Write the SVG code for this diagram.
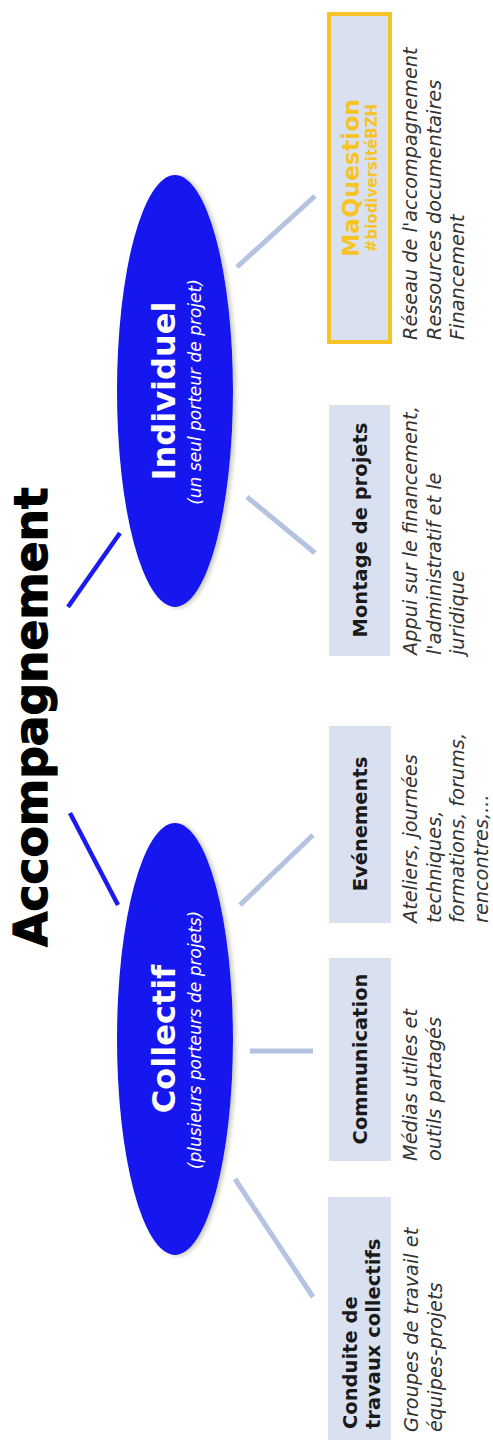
<svg xmlns="http://www.w3.org/2000/svg" width="493" height="1442" viewBox="0 0 493 1442">
<style>
.bg{fill:#ffffff}
.oval{fill:#1515ee;filter:url(#sh)}
.box{fill:#d9e1f0}
.mq{fill:#d9e1f0;stroke:#f6c429;stroke-width:4}
.dark{stroke:#1b1bef;stroke-width:4.5;stroke-linecap:butt}
.light{stroke:#b4c3df;stroke-width:5;stroke-linecap:butt}
.title{font-family:"DejaVu Sans","Liberation Sans",sans-serif;font-weight:bold;font-size:45.5px;fill:#000;stroke:#000;stroke-width:1.2;text-anchor:middle}
.big{font-family:"DejaVu Sans","Liberation Sans",sans-serif;font-weight:bold;font-size:32px;fill:#fff;text-anchor:middle}
.sub{font-family:"DejaVu Sans","Liberation Sans",sans-serif;font-style:italic;font-size:17px;fill:#fff;text-anchor:middle}
.bt{font-family:"DejaVu Sans","Liberation Sans",sans-serif;font-weight:bold;font-size:19.5px;fill:#1a1a1a}
.mid{text-anchor:middle}
.desc{font-family:"DejaVu Sans","Liberation Sans",sans-serif;font-style:italic;font-size:19.3px;fill:#333}
.y1{font-family:"DejaVu Sans","Liberation Sans",sans-serif;font-weight:bold;font-size:23.5px;fill:#f6c429;text-anchor:middle}
.y2{font-family:"DejaVu Sans","Liberation Sans",sans-serif;font-weight:bold;font-size:15px;fill:#f6c429;text-anchor:middle}
</style>
<defs>
<filter id="sh" x="-20%" y="-10%" width="140%" height="120%">
<feDropShadow dx="3" dy="1" stdDeviation="2" flood-color="#9a9a70" flood-opacity="0.5"/>
</filter>
</defs>
<rect class="bg" x="0" y="0" width="493" height="1442"/>
<g id="connectors">
<line class="dark" x1="68" y1="607" x2="120" y2="533"/>
<line class="dark" x1="70" y1="813" x2="118" y2="905"/>
<line class="light" x1="237" y1="267" x2="315" y2="196"/>
<line class="light" x1="247" y1="497" x2="315" y2="553"/>
<line class="light" x1="240" y1="905" x2="313" y2="835"/>
<line class="light" x1="250" y1="1051" x2="313" y2="1051"/>
<line class="light" x1="235" y1="1179" x2="313" y2="1297"/>
</g>
<g id="accompagnement">
<text class="title" transform="translate(47,717) rotate(-90)">Accompagnement</text>
</g>
<g id="individuel">
<ellipse class="oval" cx="175" cy="391" rx="58" ry="216"/>
<text class="big" transform="translate(175,391) rotate(-90)">Individuel</text>
<text class="sub" transform="translate(201,392) rotate(-90)">(un seul porteur de projet)</text>
</g>
<g id="collectif">
<ellipse class="oval" cx="175" cy="1039" rx="58" ry="216"/>
<text class="big" transform="translate(175,1039) rotate(-90)">Collectif</text>
<text class="sub" transform="translate(201,1040) rotate(-90)">(plusieurs porteurs de projets)</text>
</g>
<g id="maquestion">
<rect class="mq" x="329" y="14" width="61" height="328"/>
<text class="y1" transform="translate(359,178) rotate(-90)">MaQuestion</text>
<text class="y2" transform="translate(377,178) rotate(-90)">#biodiversitéBZH</text>
<text class="desc" transform="translate(417,340) rotate(-90)"><tspan x="0" dy="0">Réseau de l'accompagnement</tspan><tspan x="0" dy="23.5">Ressources documentaires</tspan><tspan x="0" dy="23.5">Financement</tspan></text>
</g>
<g id="montage">
<rect class="box" x="329" y="405" width="61" height="251"/>
<text class="bt mid" transform="translate(367,530) rotate(-90)">Montage de projets</text>
<text class="desc" transform="translate(417,655) rotate(-90)"><tspan x="0" dy="0">Appui sur le financement,</tspan><tspan x="0" dy="23.5">l'administratif et le</tspan><tspan x="0" dy="23.5">juridique</tspan></text>
</g>
<g id="evenements">
<rect class="box" x="329" y="726" width="62" height="197"/>
<text class="bt mid" transform="translate(367,824) rotate(-90)">Evénements</text>
<text class="desc" transform="translate(417,923) rotate(-90)"><tspan x="0" dy="0">Ateliers, journées</tspan><tspan x="0" dy="23.5">techniques,</tspan><tspan x="0" dy="23.5">formations, forums,</tspan><tspan x="0" dy="23.5">rencontres,...</tspan></text>
</g>
<g id="communication">
<rect class="box" x="329" y="958" width="62" height="203"/>
<text class="bt mid" transform="translate(367,1059) rotate(-90)">Communication</text>
<text class="desc" transform="translate(417,1161) rotate(-90)"><tspan x="0" dy="0">Médias utiles et</tspan><tspan x="0" dy="23.5">outils partagés</tspan></text>
</g>
<g id="conduite">
<rect class="box" x="328" y="1197" width="63" height="243"/>
<text class="bt" transform="translate(357,1429) rotate(-90)"><tspan x="0" dy="0">Conduite de</tspan><tspan x="0" dy="23">travaux collectifs</tspan></text>
<text class="desc" transform="translate(418,1432) rotate(-90)"><tspan x="0" dy="0">Groupes de travail et</tspan><tspan x="0" dy="23.5">équipes-projets</tspan></text>
</g>
</svg>
